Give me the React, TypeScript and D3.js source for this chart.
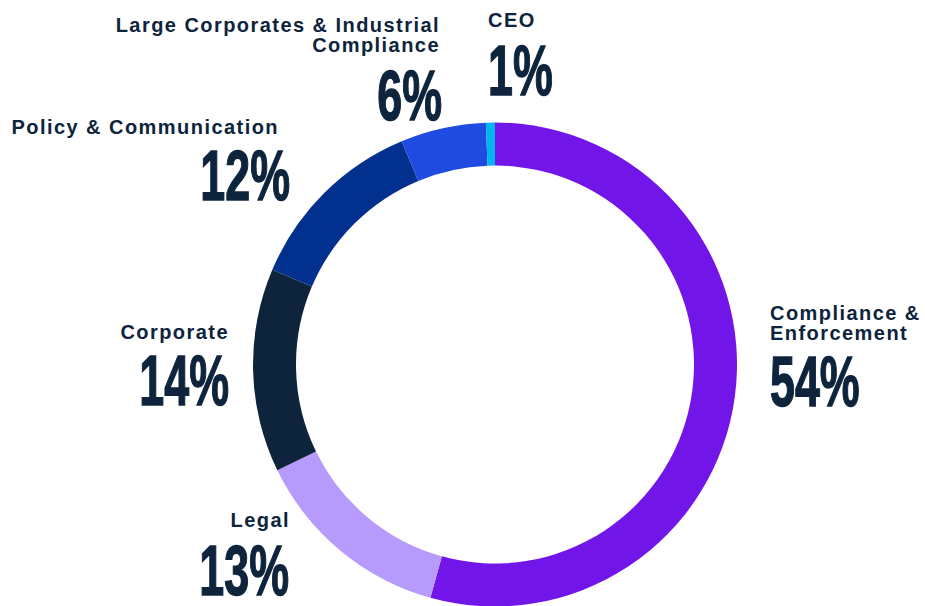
import React from "react";
import * as d3 from "d3";

const categories = [
  "Compliance & Enforcement",
  "Legal",
  "Corporate",
  "Policy & Communication",
  "Large Corporates & Industrial Compliance",
  "CEO",
];
const values = [54.3, 13.5, 13.6, 12.3, 5.7, 0.6];
const percentLabels = ["54%", "13%", "14%", "12%", "6%", "1%"];
const nameLines = [
  ["Compliance &", "Enforcement"],
  ["Legal"],
  ["Corporate"],
  ["Policy & Communication"],
  ["Large Corporates & Industrial", "Compliance"],
  ["CEO"],
];
const colors = ["#7215E9", "#B69BFC", "#0D243C", "#02308F", "#1F4BE0", "#00B5F0"];

// label layout: name anchor, name x, first baseline, pct x, pct baseline
const layout = [
  { anchor: "start", x: 770, y: 319.5, px: 770, py: 406 },
  { anchor: "end", x: 290, y: 526.5, px: 289, py: 595 },
  { anchor: "end", x: 229, y: 338.5, px: 229, py: 405 },
  { anchor: "start", x: 11.5, y: 133.5, px: 290, py: 200, pAnchor: "end" },
  { anchor: "end", x: 440, y: 31.5, px: 442, py: 119.5 },
  { anchor: "start", x: 488, y: 26.5, px: 488, py: 95 },
];

const W = 925;
const H = 606;
const cx = 495;
const cy = 364.5;
const outerR = 242;
const innerR = 199;
const textColor = "#0D243C";
const pctScale = 0.64;

export default function App() {
  const pie = d3
    .pie<number>()
    .sort(null)
    .value((d) => d)
    .startAngle(0)
    .endAngle(2 * Math.PI);
  const arcs = pie(values);
  const arc = d3.arc<d3.PieArcDatum<number>>().innerRadius(innerR).outerRadius(outerR);

  return (
    <svg
      width={W}
      height={H}
      style={{ position: "absolute", left: 0, top: 0 }}
      viewBox={`0 0 ${W} ${H}`}
    >
      <rect width={W} height={H} fill="#ffffff" />
      <g transform={`translate(${cx},${cy})`}>
        {arcs.map((a, i) => (
          <path key={categories[i]} d={arc(a) || ""} fill={colors[i]} />
        ))}
      </g>
      {categories.map((c, i) => {
        const L = layout[i] as any;
        const pAnchor = L.pAnchor || L.anchor;
        return (
          <g key={c} fill={textColor}>
            <text
              textAnchor={L.anchor}
              fontFamily="'Liberation Sans', Arial, sans-serif"
              fontWeight="bold"
              fontSize={20}
              letterSpacing={1.45}
            >
              {nameLines[i].map((ln, j) => (
                <tspan key={j} x={L.x} y={L.y + j * 20.5}>
                  {ln}
                </tspan>
              ))}
            </text>
            <text
              transform={`translate(${L.px},${L.py}) scale(${pctScale},1)`}
              textAnchor={pAnchor}
              fontFamily="'Liberation Sans', Arial, sans-serif"
              fontWeight="bold"
              fontSize={70}
              stroke={textColor}
              strokeWidth={1.4}
            >
              {percentLabels[i]}
            </text>
          </g>
        );
      })}
    </svg>
  );
}
